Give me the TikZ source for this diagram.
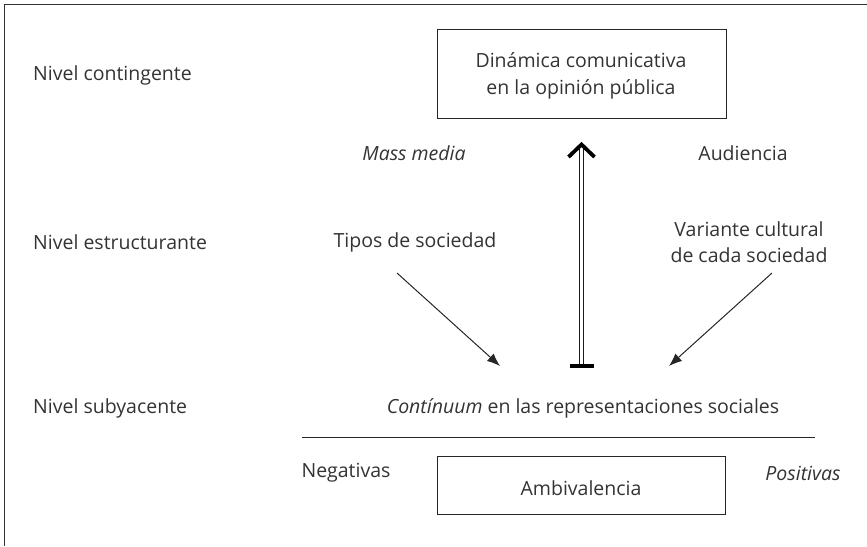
\documentclass[tikz,border=0pt]{standalone}
\usepackage{fontspec}
\setmainfont{Open Sans}
\usetikzlibrary{arrows.meta}
\begin{document}
\begin{tikzpicture}[x=1pt,y=-1pt,
  txt/.style={font=\fontsize{19.5}{26.5}\selectfont, text=black!80, inner sep=0pt},
  lvl/.style={txt, anchor=west},
  box/.style={draw=black!85, line width=0.9pt},
  thin/.style={draw=black!85, line width=0.9pt},
  diag/.style={draw=black!85, line width=1pt, -{Latex[length=13pt,width=10pt]}}]
\useasboundingbox (0,0) rectangle (867,546);
\draw[line width=1.2pt, black!80] (4.5,546) -- (4.5,4.5) -- (867,4.5);
% level labels
\node[lvl] (l1) at (33,75) {Nivel contingente};
\node[lvl] (l2) at (33,242) {Nivel estructurante};
\node[lvl] (l3) at (33,408) {Nivel subyacente};
% top box
\draw[box] (437,29) rectangle (726,118);
\node[txt, align=center] (dyn) at (581,76) {Dinámica comunicativa\\en la opinión pública};
\node[txt] (mm) at (414,153) {\itshape Mass media};
\node[txt] (aud) at (743,153) {Audiencia};
\node[txt] (tip) at (415,242) {Tipos de sociedad};
\node[txt, align=center] (var) at (749,242) {Variante cultural\\de cada sociedad};
\node[txt] (cont) at (583,408) {\itshape Contínuum\upshape{} en las representaciones sociales};
% main double arrow
\coordinate (abot) at (581.5,366);
\coordinate (atop) at (581.5,146);
\draw[black!90, line width=0.9pt, double distance=3pt] (abot) -- (atop);
\draw[black, line width=3.8pt, line cap=butt] (569.5,366) -- (593.5,366);
\draw[black, line width=3.8pt, line join=miter] (568.5,157) -- (581.5,144.5) -- (594.5,157);
% diagonal arrows
\coordinate (d1s) at (397,273);
\coordinate (d1e) at (500,366);
\coordinate (d2s) at (772,273);
\coordinate (d2e) at (669,366);
\draw[diag] (d1s) -- (d1e);
\draw[diag] (d2s) -- (d2e);
% separator line
\draw[thin] (302,437) -- (815,437);
% bottom box
\draw[box] (437,456) rectangle (725,514);
\node[txt] (amb) at (581,488) {Ambivalencia};
\node[txt] (neg) at (346,473) {Negativas};
\node[txt] (pos) at (803,473) {\itshape Positivas};
\end{tikzpicture}
\end{document}
